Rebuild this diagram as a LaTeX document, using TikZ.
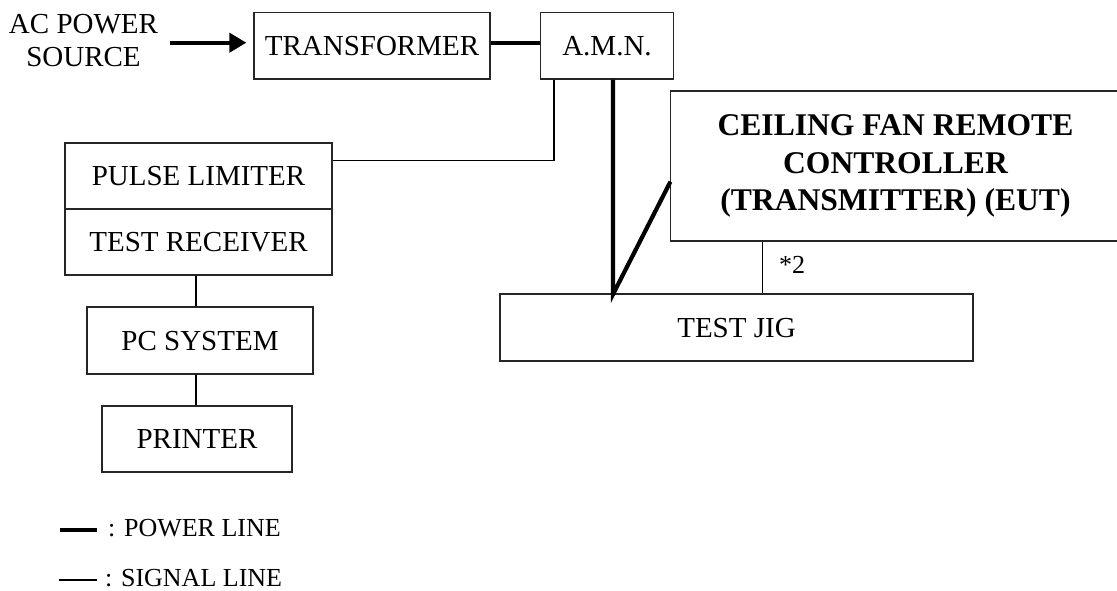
\documentclass[tikz,border=0pt]{standalone}
\usepackage{fontspec}
\setmainfont{Liberation Serif}
\usetikzlibrary{arrows.meta}
\tikzset{
  boxnode/.style={draw=black!85, line width=1.3pt, inner sep=0pt, text height=19.2pt, text depth=0pt,
    font=\fontsize{29}{33.4}\selectfont},
  power/.style={line width=4.2pt},
  signal/.style={line width=1.3pt},
  lbl/.style={inner sep=0pt, font=\fontsize{29}{33.4}\selectfont},
  small/.style={inner sep=0pt, font=\fontsize{26}{30}\selectfont},
}
\begin{document}
\begin{tikzpicture}[x=1pt,y=-1pt]
\useasboundingbox (0,0) rectangle (1117,591);
% nodes
\node[lbl, align=center] (ac) at (83.5,40.4) {AC POWER\\SOURCE};
\node[boxnode, minimum width=236pt, minimum height=66.3pt] (trans) at (372,45.9) {TRANSFORMER};
\node[boxnode, minimum width=133pt, minimum height=66.3pt] (amn) at (607,45.9) {A.M.N.};
\node[boxnode, minimum width=267pt, minimum height=66pt] (pulse) at (198.5,176) {PULSE LIMITER};
\node[boxnode, minimum width=267pt, minimum height=66pt] (rcv) at (198.5,242) {TEST RECEIVER};
\node[boxnode, minimum width=226pt, minimum height=67pt] (pc) at (200,340.5) {PC SYSTEM};
\node[boxnode, minimum width=190pt, minimum height=66pt] (prn) at (197,439) {PRINTER};
\node[boxnode, minimum width=473pt, minimum height=67pt] (jig) at (736.5,327.6) {TEST JIG};
\node[draw=black!85, line width=1.3pt, inner sep=0pt, minimum width=450pt, minimum height=150pt,
      align=center, font=\fontsize{31.6}{37.5}\bfseries] (eut) at (895.5,166)
      {CEILING FAN REMOTE\\CONTROLLER\\(TRANSMITTER) (EUT)};
\node[small, anchor=base west] (star) at (779,273) {*2};
% power lines
\coordinate (acout) at (170,42.7);
\draw[power, -{Triangle[length=17pt,width=19pt]}, shorten >=7pt] (acout) -- (acout -| trans.west);
\draw[power] ([yshift=2.6pt]trans.east) -- ([yshift=2.6pt]amn.west);
\coordinate (jp) at (613,294.3);
\coordinate (ein) at (670.4,181.7);
\draw[power, line join=miter] (jp |- amn.south) -- (jp) -- (ein);
% signal lines
\coordinate (k1) at (554,160.7);
\draw[signal] (amn.south -| k1) -- (k1) -- (k1 -| pulse.east);
\coordinate (vx) at (196,0);
\draw[signal] (rcv.south -| vx) -- (pc.north -| vx);
\draw[signal] (pc.south -| vx) -- (prn.north -| vx);
\coordinate (ex) at (762.3,0);
\draw[signal] (eut.south -| ex) -- (jig.north -| ex);
% legend
\coordinate (lp1) at (60,530);
\coordinate (lp2) at (97,530);
\draw[power] (lp1) -- (lp2);
\node[small, anchor=base west] (lpow) at (108,536) {: POWER LINE};
\coordinate (ls1) at (59,580);
\coordinate (ls2) at (97,580);
\draw[signal] (ls1) -- (ls2);
\node[small, anchor=base west] (lsig) at (105,586) {: SIGNAL LINE};
\end{tikzpicture}
\end{document}
